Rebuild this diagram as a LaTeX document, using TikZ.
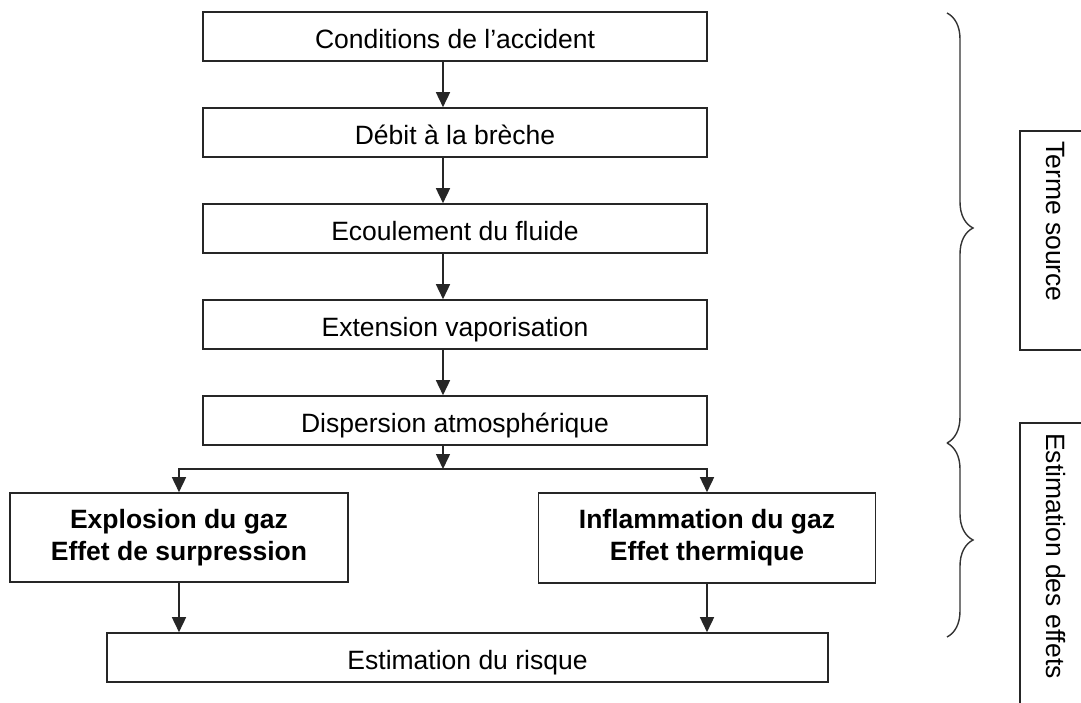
\documentclass[tikz,border=0pt]{standalone}
\usepackage{fontspec}
\setmainfont{Liberation Sans}
\usetikzlibrary{arrows.meta,decorations.pathreplacing,calc}
\begin{document}
\begin{tikzpicture}[x=1pt,y=-1pt,
  font=\fontsize{26.5}{32}\selectfont,
  line/.style={draw=black!85,line width=1.6pt},
  arr/.style={line,-{Triangle[length=15pt,width=14pt]}},
  stage/.style={line,rectangle,inner sep=0pt,minimum height=49pt,
    text height=24pt,text depth=0pt},
  result/.style={line,rectangle,inner sep=0pt,align=center,font=\fontsize{26.5}{32}\selectfont\bfseries},
  sidebox/.style={line,rectangle,inner sep=0pt,anchor=north west},
  sidelabel/.style={rotate=-90,anchor=base west,inner sep=0pt},
  bracket/.style={draw=black!80,line width=1.4pt,decorate,
    decoration={brace,amplitude=26pt}}
]
\useasboundingbox (0,0) rectangle (1081,703);
\begin{scope}
\clip (0,0) rectangle (1081,703);

% main chain of stages
\node[stage,minimum width=504pt] (c1) at (455,36.5) {Conditions de l’accident};
\node[stage,minimum width=504pt] (c2) at (455,132.5) {Débit à la brèche};
\node[stage,minimum width=504pt] (c3) at (455,228.5) {Ecoulement du fluide};
\node[stage,minimum width=504pt] (c4) at (455,324.5) {Extension vaporisation};
\node[stage,minimum width=504pt] (c5) at (455,420.5) {Dispersion atmosphérique};

% the two effects
\node[result,minimum width=338pt,minimum height=89pt] (expl) at (179,537.5)
  {Explosion du gaz\\Effet de surpression};
\node[result,minimum width=337pt,minimum height=90pt] (infl) at (707,538)
  {Inflammation du gaz\\Effet thermique};

% final estimate
\node[stage,minimum width=721pt] (risk) at (467.5,657.5) {Estimation du risque};

% connectors
\foreach \a/\b in {c1/c2,c2/c3,c3/c4,c4/c5}
  \draw[arr] ([xshift=-12pt]\a.south) -- ([xshift=-12pt]\b.north);
\coordinate (jn) at ([xshift=-12pt]c5.south |- 0,469);
\draw[arr] ([xshift=-12pt]c5.south) -- (jn);
\draw[arr] (jn) -| (expl.north);
\draw[arr] (jn) -| (infl.north);
\draw[arr] (expl.south) -- (expl.south |- risk.north);
\draw[arr] (infl.south) -- (infl.south |- risk.north);

% braces
\coordinate (b0) at (947,13);
\coordinate (b1) at (947,443);
\coordinate (b2) at (947,637);
\draw[bracket] (b0) -- (b1);
\draw[bracket] (b1) -- (b2);

% phase boxes at the right edge
\node[sidebox,minimum width=100pt,minimum height=219pt] (ts) at (1019,130) {};
\node[sidelabel] (tslab) at ([xshift=27pt]ts.north west |- 0,141) {Terme source};
\node[sidebox,minimum width=100pt,minimum height=300pt] (ee) at (1019,422) {};
\node[sidelabel] (eelab) at ([xshift=27pt]ee.north west |- 0,433) {Estimation des effets};
\end{scope}
\end{tikzpicture}
\end{document}
